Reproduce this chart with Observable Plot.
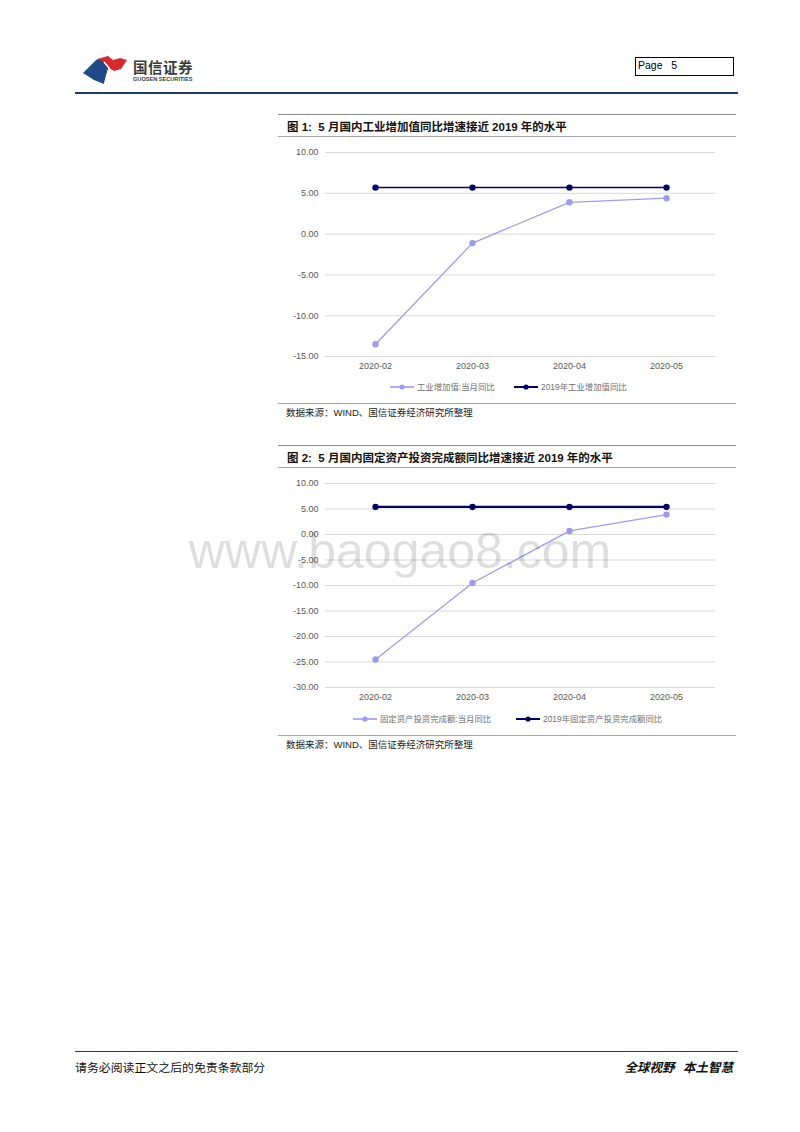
<!DOCTYPE html>
<html>
<head>
<meta charset="utf-8">
<script src="https://cdn.jsdelivr.net/npm/d3@7"></script>
<script src="https://cdn.jsdelivr.net/npm/@observablehq/plot@0.6"></script>
<style>
  html, body { margin: 0; padding: 0; background: #fff; }
  #page { position: relative; width: 800px; height: 1132px; background: #fff; overflow: hidden;
          font-family: "Liberation Sans", "Noto Sans CJK SC", sans-serif; }
  .abs { position: absolute; white-space: pre; }
  .hline { position: absolute; height: 0; }
  .title { font-family: "Liberation Sans", "Noto Sans CJK SC", sans-serif; font-weight: bold; font-size: 11.5px; color: #111; line-height: 14px; }
  .source { font-family: "Liberation Sans", "Noto Sans CJK SC", sans-serif; font-size: 9.5px; color: #222; line-height: 12px; }
  .legend { font-family: "Liberation Sans", "Noto Sans CJK SC", sans-serif; font-size: 8.4px; color: #707070; line-height: 10px; }
</style>
</head>
<body>
<div id="page"></div>
<script>
// ---------- data ----------
const months = ["2020-02", "2020-03", "2020-04", "2020-05"];
const ivaMonthly = [-13.5, -1.1, 3.9, 4.4];      // 工业增加值:当月同比
const iva2019 = [5.7, 5.7, 5.7, 5.7];            // 2019年工业增加值同比
const faiMonthly = [-24.5, -9.5, 0.7, 3.9];      // 固定资产投资完成额:当月同比
const fai2019 = [5.4, 5.4, 5.4, 5.4];            // 2019年固定资产投资完成额同比
const yTicks1 = [10, 5, 0, -5, -10, -15];
const yTicks2 = [10, 5, 0, -5, -10, -15, -20, -25, -30];
const seriesNames1 = ["工业增加值:当月同比", "2019年工业增加值同比"];
const seriesNames2 = ["固定资产投资完成额:当月同比", "2019年固定资产投资完成额同比"];
const title1 = "图 1:  5 月国内工业增加值同比增速接近 2019 年的水平";
const title2 = "图 2:  5 月国内固定资产投资完成额同比增速接近 2019 年的水平";
const sourceText = "数据来源：WIND、国信证券经济研究所整理";

const lightColor = "#9c9cee";
const navyColor = "#000066";

const page = document.getElementById("page");

function add(html) { page.insertAdjacentHTML("beforeend", html); }

// ---------- header ----------
add(`<svg class="abs" style="left:80px;top:52px" width="52" height="34" viewBox="0 0 52 34">
  <path d="M3,21 L16,8 C19,6 22,7 24,10 L29,16 C27,22 25,27 24,32 L14,28 Z" fill="#1f4a87"/>
  <path d="M17,7 L28,4 L33,8 L40,6 L47,8 L41,17 L34,19 L29,16 L24,10 Z" fill="#d62a2f"/>
  <path d="M24,10 L29,16 C27,22 26,26 25,31" fill="none" stroke="#fff" stroke-width="1.5"/>
</svg>`);
add(`<div class="abs" style="left:133px;top:58px;font-family:'Noto Sans CJK SC';font-weight:bold;font-size:14.5px;color:#3a3a3a;line-height:18px;letter-spacing:0.5px">国信证券</div>`);
add(`<div class="abs" style="left:133px;top:76px;font-family:'Liberation Sans';font-weight:bold;font-size:5.6px;color:#3a3a3a;line-height:7px">GUOSEN SECURITIES</div>`);
add(`<div class="abs" style="left:635px;top:57px;width:97px;height:17px;border:1px solid #000;box-sizing:content-box"></div>`);
add(`<div class="abs" style="left:638px;top:58px;font-family:'Liberation Sans';font-size:10.5px;color:#000;line-height:14px">Page   5</div>`);
add(`<div class="hline" style="left:75px;top:92px;width:663px;border-top:2px solid #1f3a60"></div>`);

// ---------- chart builder ----------
function buildChart({top, values, base, yDomain, yTicks, names, title, boxTop, legendY, legendX, navyWidth}) {
  const rows = [];
  months.forEach((m, i) => {
    rows.push({month: m, value: values[i], series: names[0]});
    rows.push({month: m, value: base[i], series: names[1]});
  });
  const color = {domain: names, range: [lightColor, navyColor]};
  const chart = Plot.plot({
    width: 460,
    height: 232,
    marginLeft: 47,
    marginRight: 23,
    marginTop: 12,
    marginBottom: 16,
    style: {fontFamily: "'Liberation Sans', Arial, sans-serif", fontSize: "9px", color: "#595959", background: "transparent"},
    x: {type: "point", domain: months, padding: 0.5},
    y: {domain: yDomain},
    color,
    marks: [
      Plot.gridY(yTicks, {stroke: "#d9d9d9", strokeOpacity: 1, strokeWidth: 1}),
      Plot.axisY(yTicks, {tickSize: 0, tickPadding: 7, tickFormat: d => d.toFixed(2), label: null, fill: "#595959"}),
      Plot.axisX({tickSize: 0, tickPadding: 6, label: null, fill: "#595959"}),
      Plot.line(rows.filter(r => r.series === names[0]), {x: "month", y: "value", stroke: lightColor, strokeWidth: 1.3}),
      Plot.line(rows.filter(r => r.series === names[1]), {x: "month", y: "value", stroke: navyColor, strokeWidth: navyWidth}),
      Plot.dot(rows, {x: "month", y: "value", fill: "series", r: 3.2})
    ]
  });
  chart.style.position = "absolute";
  chart.style.left = "278px";
  chart.style.top = top + "px";
  page.appendChild(chart);

  // frame lines and title
  add(`<div class="hline" style="left:278px;top:${boxTop}px;width:458px;border-top:1px solid #8c8c8c"></div>`);
  add(`<div class="abs title" style="left:287px;top:${boxTop + 6}px">${title}</div>`);
  add(`<div class="hline" style="left:278px;top:${boxTop + 22}px;width:458px;border-top:1px solid #a6a6a6"></div>`);
  add(`<div class="hline" style="left:278px;top:${legendY + 16}px;width:458px;border-top:1px solid #a6a6a6"></div>`);
  add(`<div class="abs source" style="left:286px;top:${legendY + 20}px">${sourceText}</div>`);

  // legend
  names.forEach((n, i) => {
    const c = i === 0 ? lightColor : navyColor;
    const x = legendX[i];
    add(`<svg class="abs" style="left:${x}px;top:${legendY - 4}px" width="24" height="8"><line x1="0" y1="4" x2="24" y2="4" stroke="${c}" stroke-width="${i === 0 ? 1.6 : 2}"/><circle cx="12" cy="4" r="2.6" fill="${c}"/></svg>`);
    add(`<div class="abs legend" style="left:${x + 27}px;top:${legendY - 5}px">${n}</div>`);
  });
}

buildChart({
  top: 140, values: ivaMonthly, base: iva2019, yDomain: [-15, 10], yTicks: yTicks1,
  names: seriesNames1, title: title1, boxTop: 114, legendY: 387, legendX: [390, 514], navyWidth: 1.5
});
buildChart({
  top: 471, values: faiMonthly, base: fai2019, yDomain: [-30, 10], yTicks: yTicks2,
  names: seriesNames2, title: title2, boxTop: 445, legendY: 719, legendX: [353, 516], navyWidth: 2.2
});

// watermark
add(`<div class="abs" style="left:0;width:800px;text-align:center;top:523px;font-family:'Liberation Sans';font-size:50px;line-height:56px;color:rgba(0,0,0,0.13)">www.baogao8.com</div>`);

// ---------- footer ----------
add(`<div class="hline" style="left:75px;top:1051px;width:663px;border-top:1.5px solid #1f3a60"></div>`);
add(`<div class="abs" style="left:75px;top:1060px;font-family:'Noto Sans CJK SC';font-size:11.9px;color:#111;line-height:14px">请务必阅读正文之后的免责条款部分</div>`);
add(`<div class="abs" style="right:67px;top:1060px;font-family:'Noto Sans CJK SC';font-weight:bold;font-style:italic;font-size:12.5px;color:#111;line-height:14px">全球视野   本土智慧</div>`);
</script>
</body>
</html>
